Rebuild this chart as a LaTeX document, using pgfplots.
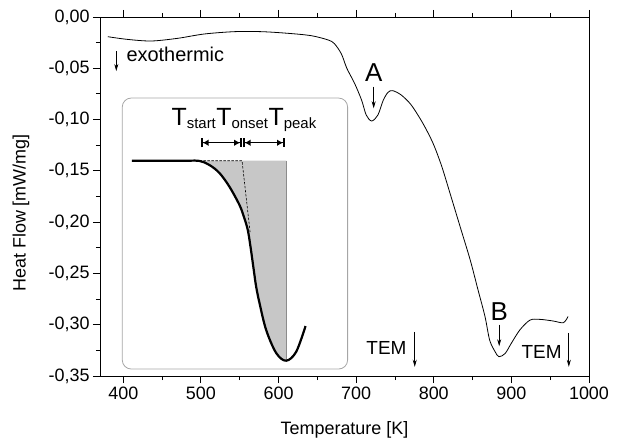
\documentclass[border=0pt]{standalone}
\usepackage{pgfplots}
\pgfplotsset{compat=1.18}
\usepackage{fontspec}
\setmainfont{Liberation Sans}
\usetikzlibrary{arrows.meta}

\newcommand\fs[1]{\fontsize{#1}{#1}\selectfont}

\begin{document}
\begin{tikzpicture}
\useasboundingbox (0,0) rectangle (621bp,444bp);
\begin{axis}[
  at={(100bp,68bp)}, anchor=south west,
  scale only axis, width=489bp, height=359bp,
  xmin=370, xmax=1000, ymin=-0.35, ymax=0,
  xtick={400,500,600,700,800,900,1000},
  ytick={-0.35,-0.3,-0.25,-0.2,-0.15,-0.1,-0.05,0},
  yticklabels={{-0,35},{-0,30},{-0,25},{-0,20},{-0,15},{-0,10},{-0,05},{0,00}},
  minor x tick num=1, minor y tick num=1,
  tick align=outside, xtick pos=both, xticklabel pos=lower, ytick pos=left,
  major tick length=7bp, minor tick length=4bp,
  /pgf/number format/assume math mode=true,
  /pgf/number format/1000 sep={},
  ticklabel style={font=\fs{18}},
  axis line style={line width=0.9bp},
  every tick/.style={black, line width=0.9bp},
  xlabel={Temperature [K]}, ylabel={Heat Flow [mW/mg]},
  every axis x label/.style={at={(axis description cs:0.5,0)}, yshift=-54bp, anchor=center, font=\fs{18}},
  every axis y label/.style={at={(axis description cs:0,0.454)}, xshift=-79bp, rotate=90, anchor=center, font=\fs{18}},
  clip=false,
]
% main DSC curve
\addplot[black, line width=0.8bp, smooth] coordinates {
 (380,-0.0192) (405,-0.0218) (436,-0.0234) (470,-0.0208) (504,-0.0166)
 (543,-0.0143) (578,-0.0143) (612,-0.0159) (642,-0.0182) (664,-0.0224)
 (672,-0.0260) (681,-0.0360) (688,-0.0500) (698,-0.0647) (707,-0.0810)
 (713,-0.0956) (720,-0.1014) (728,-0.0956) (735,-0.0810) (741,-0.0735)
 (747,-0.0718) (758,-0.0760) (771,-0.0858) (786,-0.1037) (799,-0.1230)
 (810,-0.1450) (821,-0.1720) (834,-0.2045) (847,-0.2370) (857,-0.2660)
 (866,-0.2920) (872,-0.3150) (879,-0.3263) (884,-0.3312) (892,-0.3280)
 (900,-0.3180) (911,-0.3050) (924,-0.2955) (937,-0.2948) (954,-0.2964)
 (967,-0.2980) (973,-0.2920)
};

% annotations
\tikzset{thinarrow/.style={-{Stealth[length=7bp,width=4bp]}, line width=0.7bp}}
\draw[thinarrow] (axis cs:391,-0.0332) -- (axis cs:391,-0.0527);
\node[anchor=base west, font=\fs{20}, inner sep=0] at (axis cs:404,-0.0436) {exothermic};
\node[font=\fs{26}, inner sep=0] at (axis cs:722.6,-0.0546) {A};
\draw[thinarrow] (axis cs:722.6,-0.068) -- (axis cs:722.6,-0.089);
\node[font=\fs{26}, inner sep=0] at (axis cs:884.3,-0.2873) {B};
\draw[thinarrow] (axis cs:884.3,-0.300) -- (axis cs:884.3,-0.321);
\node[font=\fs{19}, inner sep=0] at (axis cs:739,-0.3228) {TEM};
\draw[thinarrow] (axis cs:775.5,-0.307) -- (axis cs:775.5,-0.341);
\node[font=\fs{19}, inner sep=0] at (axis cs:939,-0.3263) {TEM};
\draw[thinarrow] (axis cs:974,-0.308) -- (axis cs:974,-0.341);

% inset
\draw[black!35, rounded corners=9bp, line width=0.8bp] (axis cs:398.7,-0.079) rectangle (axis cs:689,-0.3432);
\addplot[fill=black!22, draw=none] coordinates {
 (498.1,-0.1401) (511,-0.1443) (523.9,-0.1521) (536.8,-0.1655) (549.7,-0.1833)
 (555.5,-0.1950) (560.4,-0.2077) (563.9,-0.2240) (568.1,-0.2467) (571.2,-0.2630)
 (575.5,-0.2789) (584.1,-0.3052) (597,-0.3276) (609.9,-0.3351) (609.9,-0.1401)
 (498.1,-0.1401)
};
\draw[black!45, line width=0.6bp] (axis cs:609.9,-0.1401) -- (axis cs:609.9,-0.3351);
\draw[line width=0.6bp, dash pattern=on 2.5bp off 1.5bp] (axis cs:498.1,-0.1401) -- (axis cs:553,-0.1401) -- (axis cs:563.5,-0.2106);
\addplot[black, line width=2.2bp, smooth, tension=0.55] coordinates {
 (411.2,-0.1401) (480,-0.1401) (498.1,-0.1403) (511,-0.1443) (523.9,-0.1521)
 (536.8,-0.1655) (549.7,-0.1833) (555.5,-0.1950) (560.4,-0.2077) (563.9,-0.2240)
 (568.1,-0.2467) (571.2,-0.2630) (575.5,-0.2789) (584.1,-0.3052) (597,-0.3276)
 (609.9,-0.3351) (622.8,-0.3263) (634.8,-0.3013)
};
\node[anchor=base west, font=\fs{25}, inner sep=0] at (axis cs:462,-0.1053)
  {T\textsubscript{\fs{15}start}T\textsubscript{\fs{15}onset}T\textsubscript{\fs{15}peak}};
\tikzset{dimarrow/.style={{Bar[width=9bp,line width=1.4bp]Latex[length=6bp,width=6.5bp]}-{Latex[length=6bp,width=6.5bp]Bar[width=9bp,line width=1.4bp]}, line width=1.4bp}}
\draw[dimarrow] (axis cs:500.3,-0.1226) -- (axis cs:552.4,-0.1226);
\draw[dimarrow] (axis cs:554.4,-0.1226) -- (axis cs:607.7,-0.1226);
\end{axis}
\end{tikzpicture}
\end{document}
